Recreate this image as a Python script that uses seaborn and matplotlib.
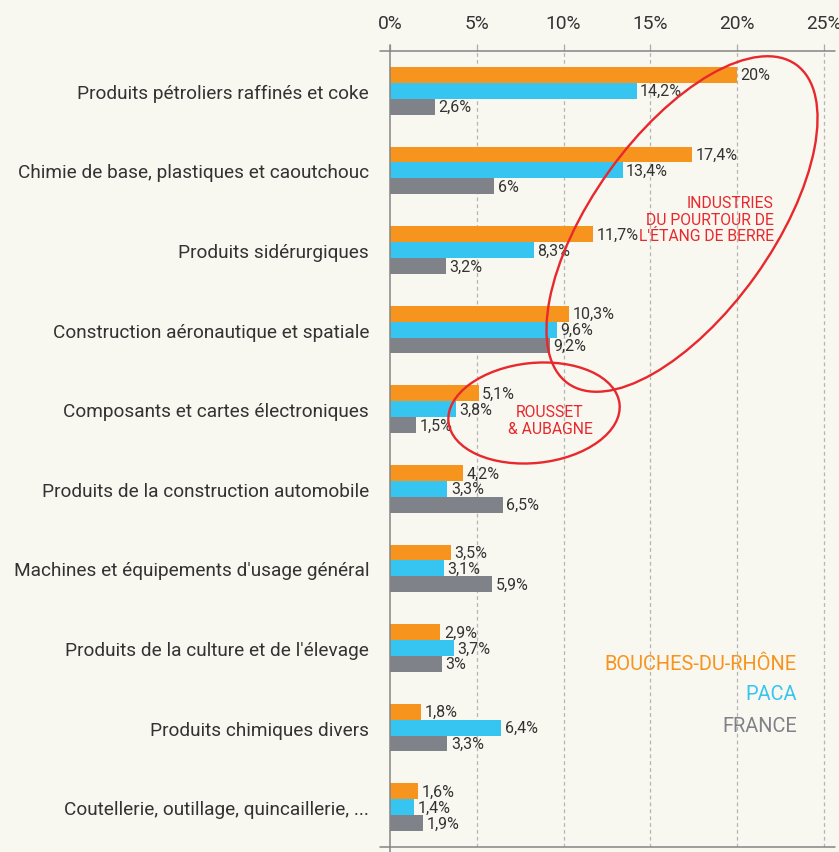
import matplotlib
matplotlib.use("Agg")
import matplotlib.pyplot as plt
from matplotlib.patches import Ellipse
from matplotlib.lines import Line2D
import seaborn as sns
import pandas as pd

categories = [
    "Produits pétroliers raffinés et coke",
    "Chimie de base, plastiques et caoutchouc",
    "Produits sidérurgiques",
    "Construction aéronautique et spatiale",
    "Composants et cartes électroniques",
    "Produits de la construction automobile",
    "Machines et équipements d'usage général",
    "Produits de la culture et de l'élevage",
    "Produits chimiques divers",
    "Coutellerie, outillage, quincaillerie, ...",
]
series_names = ["BOUCHES-DU-RHÔNE", "PACA", "FRANCE"]
bdr = [20, 17.4, 11.7, 10.3, 5.1, 4.2, 3.5, 2.9, 1.8, 1.6]
paca = [14.2, 13.4, 8.3, 9.6, 3.8, 3.3, 3.1, 3.7, 6.4, 1.4]
france = [2.6, 6, 3.2, 9.2, 1.5, 6.5, 5.9, 3.0, 3.3, 1.9]
x_ticks = [0, 5, 10, 15, 20, 25]
x_tick_labels = ["0%", "5%", "10%", "15%", "20%", "25%"]
colors = ["#f7941d", "#36c5f0", "#808289"]

BG = "#f8f7f0"
TXT = "#333333"
RED = "#e8282d"
LINE = "#858585"

rows = []
for name, vals in zip(series_names, [bdr, paca, france]):
    for c, v in zip(categories, vals):
        rows.append({"cat": c, "val": v, "serie": name})
df = pd.DataFrame(rows)

sns.set_style("white")
plt.rcParams["font.family"] = ["Roboto", "DejaVu Sans"]

W, H = 839, 853
fig = plt.figure(figsize=(W / 100, H / 100), dpi=100, facecolor=BG)
ax = fig.add_axes([390 / W, 1 - 848 / H, 445 / W, 796 / H], facecolor=BG)

sns.barplot(data=df, y="cat", x="val", hue="serie", order=categories,
            hue_order=series_names, palette=colors, width=0.6, orient="h",
            saturation=1, legend=False, ax=ax, zorder=3, linewidth=0)

ax.set_xlim(0, 445 / 17.36)
ax.set_ylim(9.5, -0.5)
ax.set_xlabel("")
ax.set_ylabel("")

for s in ax.spines.values():
    s.set_visible(False)

# x axis on top
ax.xaxis.tick_top()
ax.set_xticks(x_ticks)
ax.set_xticklabels(x_tick_labels, fontsize=13.8, color=TXT)
ax.tick_params(axis="x", length=5, width=0.9, color="#aaaaaa", pad=9, direction="out")
for xv in x_ticks[1:]:
    ax.axvline(xv, color="#b5b5b5", lw=0.9, ls=(0, (3, 2.5)), zorder=1)

# y axis labels and separators
ax.set_yticks(range(len(categories)))
ax.set_yticklabels(categories, fontsize=13.7, color=TXT)
ax.tick_params(axis="y", length=0, pad=15)
ax.set_yticks([i + 0.5 for i in range(len(categories) - 1)], minor=True)
ax.tick_params(axis="y", which="minor", length=7.5, width=0.9, color=LINE, direction="out")

def fmt(v):
    s = f"{v:.1f}".replace(".", ",")
    if s.endswith(",0"):
        s = s[:-2]
    return s + "%"

for cont, vals in zip(ax.containers, [bdr, paca, france]):
    ax.bar_label(cont, labels=[fmt(v) for v in vals], padding=2.5,
                 fontsize=11.5, color=TXT, zorder=5)

# overlay in pixel coordinates for frame lines and annotations
ov = fig.add_axes([0, 0, 1, 1], facecolor="none")
ov.set_xlim(0, W)
ov.set_ylim(H, 0)
ov.axis("off")
ov.add_line(Line2D([380, 835], [52, 52], color=LINE, lw=1.1))
ov.add_line(Line2D([380, 835], [848, 848], color=LINE, lw=1.1))
ov.add_line(Line2D([390, 390], [46, 853], color=LINE, lw=1.1))

ov.add_patch(Ellipse((682, 225), 392, 180, angle=-54.4, fill=False,
                     edgecolor=RED, lw=1.7))
ov.add_patch(Ellipse((534, 414), 172, 100, angle=-6, fill=False,
                     edgecolor=RED, lw=1.7))

ov.text(774, 220, "INDUSTRIES\nDU POURTOUR DE\nL'ÉTANG DE BERRE", ha="right",
        va="center", fontsize=11.3, color=RED, linespacing=1.15)
ov.text(550, 421, "ROUSSET\n& AUBAGNE", ha="center", va="center",
        fontsize=11.3, color=RED, linespacing=1.15)

for name, col, y in zip(series_names, colors, [664, 695, 727]):
    ov.text(797, y, name, ha="right", va="center", fontsize=14.4, color=col)

fig.savefig("out.png", dpi=100, facecolor=BG)
